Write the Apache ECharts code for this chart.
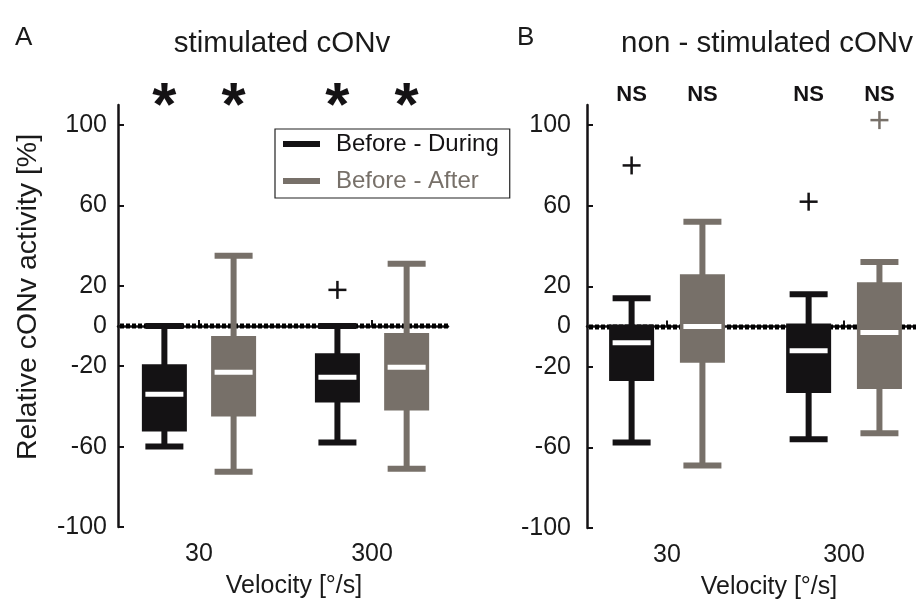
<!DOCTYPE html>
<html><head><meta charset="utf-8">
<script src="https://cdn.jsdelivr.net/npm/echarts@6/dist/echarts.min.js"></script>
<style>html,body{margin:0;padding:0;background:#fff}#c{width:916px;height:601px}</style>
</head><body><div id="c"></div>
<script>
// ---------- data ----------
const velocities = ['30', '300'];
const seriesNames = ['Before - During', 'Before - After'];
const yTicks = [-100, -60, -20, 0, 20, 60, 100];
const panelTitles = ['stimulated cONv', 'non - stimulated cONv'];
const panelLetters = ['A', 'B'];
const xAxisName = 'Velocity [°/s]';
const yAxisName = 'Relative cONv activity [%]';
const referenceLevel = [0];
// box statistics per velocity: [min, Q1, median, Q3, max]
const stimDuring = [[-60, -52.5, -34, -19, 0], [-58, -38, -25.5, -13.5, 0]];
const stimAfter  = [[-72.5, -45, -23, -5, 35], [-71, -42, -20.5, -3.5, 31]];
const nonDuring  = [[-57.5, -27, -8, 1, 14], [-56, -33, -12, 1.5, 16]];
const nonAfter   = [[-69, -18, 0, 26, 52], [-53, -31, -3, 22, 32]];
// outliers: [velocity index, value]
const stimDuringOut = [[1, 18]];
const stimAfterOut  = [];
const nonDuringOut  = [[0, 80], [1, 62]];
const nonAfterOut   = [[1, 102.5]];
// significance marks per velocity
const stimSigDuring = ['*', '*'];
const stimSigAfter  = ['*', '*'];
const nonSigDuring  = ['NS', 'NS'];
const nonSigAfter   = ['NS', 'NS'];

// ---------- styling ----------
const BLACK = '#141214';
const GRAY = '#777069';
const TXT = '#1a1a1a';
const FONT = '"Liberation Sans", Arial, Helvetica, sans-serif';
const OFF = 0.2;

function boxRender(offset, color) {
  return function (params, api) {
    const g = api.value(0) + offset;
    const x = api.coord([g, 0])[0];
    const yMin = api.coord([g, api.value(1)])[1];
    const yQ1 = api.coord([g, api.value(2)])[1];
    const yMed = api.coord([g, api.value(3)])[1];
    const yQ3 = api.coord([g, api.value(4)])[1];
    const yMax = api.coord([g, api.value(5)])[1];
    const BW = 45, CW = 38, WW = 6, CH = 6, MH = 5;
    return { type: 'group', children: [
      { type: 'rect', shape: { x: x - WW / 2, y: yMax, width: WW, height: yMin - yMax }, style: { fill: color } },
      { type: 'rect', shape: { x: x - CW / 2, y: yMax - CH / 2, width: CW, height: CH }, style: { fill: color } },
      { type: 'rect', shape: { x: x - CW / 2, y: yMin - CH / 2, width: CW, height: CH }, style: { fill: color } },
      { type: 'rect', shape: { x: x - BW / 2, y: yQ3, width: BW, height: yQ1 - yQ3 }, style: { fill: color } },
      { type: 'rect', shape: { x: x - CW / 2, y: yMed - MH / 2, width: CW, height: MH }, style: { fill: '#ffffff' } }
    ]};
  };
}
function outRender(offset, color) {
  return function (params, api) {
    const p = api.coord([api.value(0) + offset, api.value(1)]);
    const S = 18, T = 2.5;
    return { type: 'group', children: [
      { type: 'rect', shape: { x: p[0] - S / 2, y: p[1] - T / 2, width: S, height: T }, style: { fill: color } },
      { type: 'rect', shape: { x: p[0] - T / 2, y: p[1] - S / 2, width: T, height: S }, style: { fill: color } }
    ]};
  };
}
function sigRender(offset, labels, fontSize, dy) {
  return function (params, api) {
    const x = api.coord([api.value(0) + offset, 0])[0];
    const y = params.coordSys.y + dy;
    return { type: 'text', x: x, y: y, style: {
      text: labels[params.dataIndex], fill: BLACK, font: 'bold ' + fontSize + 'px ' + FONT,
      align: 'center', verticalAlign: 'middle' } };
  };
}
function refLineRender(params, api) {
  const cs = params.coordSys;
  const y = Math.round(api.coord([1, api.value(0)])[1]);
  return { type: 'line', shape: { x1: cs.x + 2, y1: y, x2: cs.x + cs.width, y2: y },
    style: { stroke: '#000000', lineWidth: 5, lineDash: [4, 2], lineCap: 'butt' } };
}
const toBox = arr => arr.map((v, i) => [i + 1].concat(v));
const toOut = arr => arr.map(o => [o[0] + 1, o[1]]);
const toSig = arr => arr.map((s, i) => [i + 1]);

function panelSeries(k, during, after, dOut, aOut, sigD, sigA, sigSize, sigDy) {
  const base = { type: 'custom', xAxisIndex: k, yAxisIndex: k, clip: false };
  return [
    Object.assign({}, base, { z: 1, silent: true, renderItem: refLineRender, encode: { y: 0 }, data: referenceLevel.map(v => [v]) }),
    Object.assign({}, base, { name: seriesNames[0], itemStyle: { color: BLACK }, z: 3,
      renderItem: boxRender(-OFF, BLACK), encode: { x: 0, y: [1, 2, 3, 4, 5] }, data: toBox(during) }),
    Object.assign({}, base, { name: seriesNames[1], itemStyle: { color: GRAY }, z: 3,
      renderItem: boxRender(OFF, GRAY), encode: { x: 0, y: [1, 2, 3, 4, 5] }, data: toBox(after) }),
    Object.assign({}, base, { name: seriesNames[0], z: 4, renderItem: outRender(-OFF, BLACK), encode: { x: 0, y: 1 }, data: toOut(dOut) }),
    Object.assign({}, base, { name: seriesNames[1], z: 4, renderItem: outRender(OFF, GRAY), encode: { x: 0, y: 1 }, data: toOut(aOut) }),
    Object.assign({}, base, { z: 4, renderItem: sigRender(-OFF, sigD, sigSize, sigDy), encode: { x: 0 }, data: toSig(sigD) }),
    Object.assign({}, base, { z: 4, renderItem: sigRender(OFF, sigA, sigSize, sigDy), encode: { x: 0 }, data: toSig(sigA) })
  ];
}

function xAxis(k, min, max) {
  return { type: 'value', gridIndex: k, min: min, max: max,
    name: xAxisName, nameLocation: 'middle', nameGap: 47,
    nameTextStyle: { fontFamily: FONT, fontSize: 25, color: TXT, padding: [0, 0, 0, 22] },
    axisLine: { lineStyle: { color: BLACK, width: 2.5 } },
    axisTick: { show: true, inside: true, length: 6, customValues: [1, 2], lineStyle: { color: BLACK, width: 2 } },
    axisLabel: { customValues: [1, 2], formatter: v => velocities[Math.round(v) - 1], margin: 15,
      fontFamily: FONT, fontSize: 25, color: TXT },
    splitLine: { show: false } };
}
function yAxis(k, showName, margin) {
  return { type: 'value', gridIndex: k, min: -100, max: 110,
    name: showName ? yAxisName : '', nameLocation: 'middle', nameGap: 75,
    nameTextStyle: { fontFamily: FONT, fontSize: 28.5, color: TXT, padding: [0, 0, 0, 38] },
    axisLine: { show: true, lineStyle: { color: BLACK, width: 2.5 } },
    axisTick: { show: true, inside: true, length: 6, customValues: yTicks, lineStyle: { color: BLACK, width: 2 } },
    axisLabel: { customValues: yTicks, margin: margin, fontFamily: FONT, fontSize: 25, color: TXT },
    splitLine: { show: false } };
}

const chart = echarts.init(document.getElementById('c'), null, { renderer: 'canvas' });
chart.setOption({
  backgroundColor: '#ffffff',
  animation: false,
  title: [
    { text: panelLetters[0], left: 10, top: 20, textStyle: { fontFamily: FONT, fontSize: 26, fontWeight: 'normal', color: TXT } },
    { text: panelLetters[1], left: 512, top: 20, textStyle: { fontFamily: FONT, fontSize: 26, fontWeight: 'normal', color: TXT } },
    { text: panelTitles[0], left: 277, top: 24, textAlign: 'center', textStyle: { fontFamily: FONT, fontSize: 29.5, fontWeight: 'normal', color: TXT } },
    { text: panelTitles[1], left: 762, top: 24, textAlign: 'center', textStyle: { fontFamily: FONT, fontSize: 29.5, fontWeight: 'normal', color: TXT } }
  ],
  legend: {
    left: 275, top: 129, orient: 'vertical', selectedMode: false,
    borderColor: '#222', borderWidth: 1.2, padding: [1, 11, 3, 8],
    itemWidth: 37, itemHeight: 6, itemGap: 9, icon: 'rect',
    textStyle: { fontFamily: FONT, fontSize: 24, lineHeight: 28, padding: [0, 0, 0, 11] },
    data: [
      { name: seriesNames[0], textStyle: { color: BLACK } },
      { name: seriesNames[1], textStyle: { color: GRAY } }
    ]
  },
  grid: [
    { left: 118, top: 105, width: 330, height: 422, outerBoundsMode: 'none', containLabel: false },
    { left: 587, top: 105, width: 342, height: 423, outerBoundsMode: 'none', containLabel: false }
  ],
  xAxis: [xAxis(0, 0.532, 2.439), xAxis(1, 0.548, 2.48)],
  yAxis: [yAxis(0, true, 11), yAxis(1, false, 16)],
  series: [].concat(
    panelSeries(0, stimDuring, stimAfter, stimDuringOut, stimAfterOut, stimSigDuring, stimSigAfter, 62, 3),
    panelSeries(1, nonDuring, nonAfter, nonDuringOut, nonAfterOut, nonSigDuring, nonSigAfter, 22, -10)
  )
});
</script>
</body></html>
